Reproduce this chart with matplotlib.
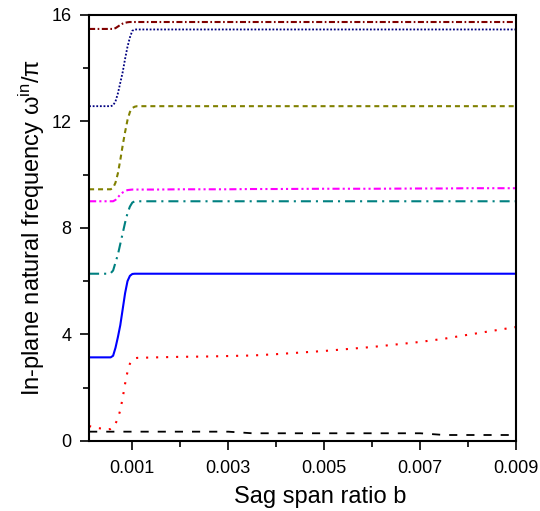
import matplotlib
matplotlib.use("Agg")
import matplotlib.pyplot as plt
from matplotlib.ticker import MultipleLocator, FixedLocator

plt.rcParams['font.family'] = ['Liberation Sans', 'DejaVu Sans']
plt.rcParams['mathtext.fontset'] = 'custom'
plt.rcParams['mathtext.rm'] = 'Liberation Sans'
plt.rcParams['mathtext.it'] = 'Liberation Sans:italic'

# sag span ratio (shared grid for all curves)
b = [0.0001, 0.0003, 0.0005, 0.00055, 0.0006, 0.00065, 0.0007, 0.00075, 0.0008,
     0.00085, 0.0009, 0.00095, 0.001, 0.00105, 0.0011, 0.0015, 0.002, 0.0025,
     0.003, 0.0035, 0.004, 0.005, 0.006, 0.007, 0.0075, 0.008, 0.009]

# in-plane natural frequencies / pi, one list per mode
mode1 = [0.35, 0.35, 0.35, 0.35, 0.35, 0.35, 0.35, 0.35, 0.35, 0.35, 0.35, 0.35,
         0.35, 0.35, 0.35, 0.35, 0.35, 0.35, 0.35, 0.29, 0.29, 0.29, 0.29, 0.29,
         0.225, 0.225, 0.225]
mode2 = [0.56, 0.48, 0.44, 0.45, 0.50, 0.65, 0.85, 1.16, 1.62, 2.15, 2.60, 2.90,
         3.05, 3.10, 3.12, 3.14, 3.16, 3.17, 3.19, 3.21, 3.26, 3.38, 3.53, 3.72,
         3.84, 3.99, 4.28]
mode3 = [3.14, 3.14, 3.14, 3.14, 3.20, 3.50, 3.90, 4.35, 4.95, 5.55, 6.00, 6.20,
         6.27, 6.28, 6.28, 6.28, 6.28, 6.28, 6.28, 6.28, 6.28, 6.28, 6.28, 6.28,
         6.28, 6.28, 6.28]
mode4 = [6.28, 6.28, 6.28, 6.30, 6.40, 6.70, 7.00, 7.40, 7.80, 8.20, 8.55, 8.80,
         8.95, 9.00, 9.00, 9.00, 9.00, 9.00, 9.00, 9.00, 9.00, 9.00, 9.00, 9.00,
         9.00, 9.00, 9.00]
mode5 = [9.00, 9.00, 9.00, 9.00, 9.00, 9.05, 9.15, 9.25, 9.33, 9.38, 9.42, 9.43,
         9.44, 9.44, 9.44, 9.44, 9.45, 9.45, 9.45, 9.46, 9.46, 9.47, 9.47, 9.48,
         9.48, 9.49, 9.49]
mode6 = [9.45, 9.45, 9.45, 9.45, 9.50, 9.70, 10.05, 10.55, 11.10, 11.60, 12.05,
         12.35, 12.50, 12.55, 12.57, 12.57, 12.57, 12.57, 12.57, 12.57, 12.57,
         12.57, 12.57, 12.57, 12.57, 12.57, 12.57]
mode7 = [12.57, 12.57, 12.57, 12.57, 12.60, 12.75, 13.05, 13.45, 13.85, 14.35,
         14.80, 15.15, 15.40, 15.45, 15.45, 15.45, 15.45, 15.45, 15.45, 15.45,
         15.45, 15.45, 15.45, 15.45, 15.45, 15.45, 15.45]
mode8 = [15.47, 15.47, 15.47, 15.47, 15.47, 15.50, 15.56, 15.62, 15.67, 15.70,
         15.72, 15.73, 15.73, 15.73, 15.73, 15.73, 15.73, 15.73, 15.73, 15.73,
         15.73, 15.73, 15.73, 15.73, 15.73, 15.73, 15.73]

x_ticks = [0.001, 0.003, 0.005, 0.007, 0.009]
x_labels = ['0.001', '0.003', '0.005', '0.007', '0.009']

fig = plt.figure(figsize=(5.4, 5.11), dpi=100)
ax = fig.add_axes([0.165, 0.137, 0.791, 0.834])

ax.plot(b, mode1, color='black', lw=1.3, dashes=(4.5, 5))
ax.plot(b, mode2, color='red', lw=1.5, dashes=(1, 3.8))
ax.plot(b, mode3, color='#0000FF', lw=1.5)
ax.plot(b, mode4, color='#008080', lw=1.5, dashes=(4.8, 2.4, 1, 2.4))
ax.plot(b, mode5, color='#FF00FF', lw=1.5, dashes=(3.4, 1.5, 1, 1.5, 1, 1.5))
ax.plot(b, mode6, color='#808000', lw=1.5, dashes=(2.4, 1.9))
ax.plot(b, mode7, color='#000080', lw=1.3, dashes=(1, 1))
ax.plot(b, mode8, color='#800000', lw=1.5, dashes=(2.9, 1.2, 0.8, 1.2))

ax.set_xlim(0.0001, 0.009)
ax.set_ylim(0, 16)
ax.set_xticks(x_ticks)
ax.set_xticklabels(x_labels)
ax.xaxis.set_minor_locator(FixedLocator([0.002, 0.004, 0.006, 0.008]))
ax.yaxis.set_major_locator(MultipleLocator(4))
ax.yaxis.set_minor_locator(MultipleLocator(2))

ax.tick_params(which='major', direction='out', length=6.5, width=1.2, labelsize=13)
ax.tick_params(which='minor', direction='out', length=4, width=1.2)
ax.tick_params(axis='x', which='major', pad=7)
ax.tick_params(axis='y', which='major', pad=6)
for s in ax.spines.values():
    s.set_linewidth(1.5)

ax.set_xlabel('Sag span ratio b', fontsize=17, labelpad=5)
ax.xaxis.set_label_coords(0.541, -0.105)
ax.set_ylabel('In-plane natural frequency ω$^{\\mathrm{in}}$/π', fontsize=17, labelpad=3)

fig.savefig('out.png', dpi=100)
